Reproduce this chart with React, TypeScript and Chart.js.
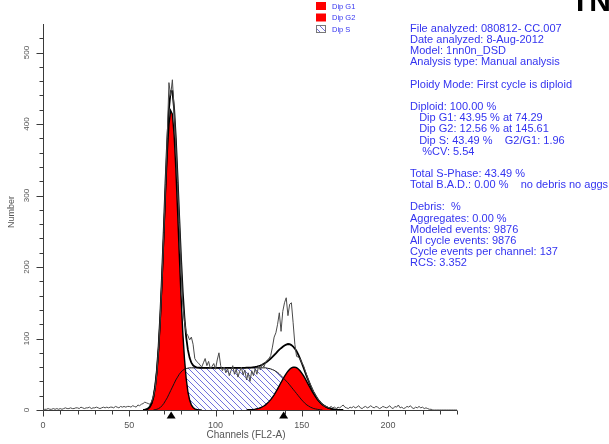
import { useEffect, useRef } from "react";
import { Chart, registerables } from "chart.js";

Chart.register(...registerables);

// ---- data (channel counts) ----
const rawStart = 0;
const rawCounts = [
  0, 1, 1, 2, 1, 1, 2, 1, 2, 1,
  2, 1, 2, 3, 2, 2, 3, 2, 2, 3,
  3, 2, 4, 3, 2, 3, 3, 4, 2, 3,
  3, 4, 3, 2, 3, 4, 3, 4, 3, 4,
  4, 3, 5, 4, 3, 5, 4, 5, 4, 5,
  5, 4, 6, 5, 4, 7, 6, 8, 9, 11,
  10, 9, 8, 12, 19, 30, 52, 85, 130, 185,
  248, 315, 380, 458, 440, 462, 420, 372, 318, 262,
  205, 150, 125, 108, 104, 98, 102, 92, 72, 68,
  66, 63, 60, 66, 72, 62, 68, 58, 61, 65,
  57, 70, 80, 62, 55, 60, 52, 58, 48, 55,
  62, 50, 57, 46, 54, 60, 49, 56, 42, 52,
  40, 55, 48, 58, 50, 62, 56, 64, 60, 66,
  70, 72, 76, 88, 102, 108, 120, 136, 110, 138,
  150, 157, 132, 148, 150, 122, 92, 75, 74, 72,
  66, 62, 55, 48, 41, 36, 30, 25, 21, 17,
  13, 11, 8, 6, 5, 4, 3, 5, 3, 4,
  2, 4, 3, 5, 7, 4, 3, 2, 4, 3,
  5, 3, 4, 6, 3, 2, 4, 5, 3, 4,
  6, 4, 3, 5, 4, 2, 3, 5, 4, 3,
  4, 6, 3, 2, 5, 4, 7, 3, 4, 2,
  3, 5, 4, 6, 3, 2, 4, 3, 5, 3,
  4, 2, 3, 2, 1, 1, 0, 0, 0, 0,
  0, 0, 0, 0, 0, 0, 0, 0, 0, 0, 0,
];

const g1Start = 58;
const g1Fit = [
  0.2, 0.5, 1, 2.2, 4.7, 9.4, 17.9, 32, 54, 86,
  129, 182, 242, 304, 359, 399, 419, 414, 385, 338,
  280, 218, 160, 110, 72, 44, 25.5, 14, 7.2, 3.5,
  1.6, 0.7, 0.3, 0.1, 0,
];

const sStart = 64;
const sFit = [
  0, 0.5, 1, 2, 3.5, 6, 9, 13, 17, 22,
  27, 32, 37, 42, 46, 50, 53, 55.5, 57, 58,
  58.5, 59, 59, 59, 59, 59, 59, 59, 59, 59,
  59, 59, 59, 59, 59, 59, 59, 59, 59, 59,
  59, 59, 59, 59, 59, 59, 59, 59, 59, 59,
  59, 59, 59, 59, 59, 59, 59, 59, 59, 59,
  59, 59, 59, 59, 59, 59, 58.5, 58, 57.5, 56.5,
  55.5, 54, 52.5, 50.5, 48, 45.5, 43, 40.5, 38, 35,
  32, 29, 26, 23, 20, 17, 14, 11.5, 9, 7,
  5.5, 4, 3, 2, 1.5, 1, 0.5, 0.2, 0,
];

const g2Start = 118;
const g2Fit = [
  0.17, 0.26, 0.39, 0.57, 0.83, 1.19, 1.67, 2.3, 3.1, 4.2,
  5.6, 7.2, 9.3, 11.7, 14.5, 17.7, 21.3, 25.3, 29.6, 34,
  38.5, 42.9, 47.2, 51, 54.3, 57, 58.8, 59.8, 59.9, 59.1,
  57.4, 54.9, 51.7, 48, 43.8, 39.4, 34.9, 30.4, 26.1, 22.1,
  18.4, 15.1, 12.2, 9.7, 7.6, 5.9, 4.5, 3.3, 2.5, 1.8,
  1.3, 0.9, 0.6, 0.4, 0.3, 0.2, 0,
];

const xMajorTicks = [0, 50, 100, 150, 200];
const yMajorTicks = [0, 100, 200, 300, 400, 500];
const markerChannels = [74.29, 139.5];
const legendLabels = ["Dip G1", "Dip G2", "Dip S"];
const infoLines = [
  "File analyzed: 080812- CC.007",
  "Date analyzed: 8-Aug-2012",
  "Model: 1nn0n_DSD",
  "Analysis type: Manual analysis",
  "",
  "Ploidy Mode: First cycle is diploid",
  "",
  "Diploid: 100.00 %",
  "   Dip G1: 43.95 % at 74.29",
  "   Dip G2: 12.56 % at 145.61",
  "   Dip S: 43.49 %    G2/G1: 1.96",
  "    %CV: 5.54",
  "",
  "Total S-Phase: 43.49 %",
  "Total B.A.D.: 0.00 %    no debris no aggs",
  "",
  "Debris:  %",
  "Aggregates: 0.00 %",
  "Modeled events: 9876",
  "All cycle events: 9876",
  "Cycle events per channel: 137",
  "RCS: 3.352",
];

const toPoints = (start: number, arr: number[]) => arr.map((v, i) => ({ x: start + i, y: v }));
const valueAt = (start: number, arr: number[], ch: number) => {
  const i = ch - start;
  return i >= 0 && i < arr.length ? arr[i] : 0;
};
const modelPoints = () => {
  const from = Math.min(g1Start, sStart, g2Start);
  const to = Math.max(g1Start + g1Fit.length, sStart + sFit.length, g2Start + g2Fit.length);
  const pts: { x: number; y: number }[] = [];
  for (let ch = from; ch < to; ch++) {
    pts.push({ x: ch, y: valueAt(g1Start, g1Fit, ch) + valueAt(sStart, sFit, ch) + valueAt(g2Start, g2Fit, ch) });
  }
  return pts;
};

const BLUE = "#3434f0";
const AXIS = "#3a3a3a";
const LABEL = "#555555";

function makeHatch(): CanvasPattern | string {
  const n = 6;
  const c = document.createElement("canvas");
  c.width = n;
  c.height = n;
  const g = c.getContext("2d");
  if (!g) return "#c8c8f0";
  g.fillStyle = "#fdfdff";
  g.fillRect(0, 0, n, n);
  g.strokeStyle = "#7070dc";
  g.lineWidth = 1;
  g.beginPath();
  g.moveTo(-1, -1);
  g.lineTo(n + 1, n + 1);
  g.moveTo(-1, n - 1);
  g.lineTo(1, n + 1);
  g.moveTo(n - 1, -1);
  g.lineTo(n + 1, 1);
  g.stroke();
  const p = g.createPattern(c, "repeat");
  return p || "#c8c8f0";
}

const decorPlugin = {
  id: "decor",
  afterDatasetsDraw(chart: any) {
    const { ctx, scales } = chart;
    const x = scales.x;
    const y = scales.y;
    const x0 = Math.round(x.getPixelForValue(0)) + 0.5;
    const xEnd = x.getPixelForValue(240);
    const y0 = Math.round(y.getPixelForValue(0)) + 0.5;
    const yTop = y.getPixelForValue(540);
    ctx.save();
    ctx.strokeStyle = AXIS;
    ctx.lineWidth = 1;
    ctx.beginPath();
    ctx.moveTo(x0, yTop);
    ctx.lineTo(x0, y0);
    ctx.lineTo(xEnd, y0);
    for (let v = 0; v <= 240; v += 10) {
      const px = Math.round(x.getPixelForValue(v)) + 0.5;
      const len = v % 50 === 0 ? 6 : 4;
      ctx.moveTo(px, y0);
      ctx.lineTo(px, y0 + len);
    }
    for (let v = 0; v <= 520; v += 20) {
      const py = Math.round(y.getPixelForValue(v)) + 0.5;
      const len = v % 100 === 0 ? 7 : 4;
      ctx.moveTo(x0, py);
      ctx.lineTo(x0 - len, py);
    }
    ctx.stroke();

    // markers
    ctx.fillStyle = "#000";
    markerChannels.forEach((m) => {
      const px = x.getPixelForValue(m);
      ctx.beginPath();
      ctx.moveTo(px, y0 + 1);
      ctx.lineTo(px - 4.5, y0 + 8);
      ctx.lineTo(px + 4.5, y0 + 8);
      ctx.closePath();
      ctx.fill();
    });

    // tick labels
    ctx.fillStyle = LABEL;
    ctx.font = "9px 'Liberation Sans', Arial, sans-serif";
    ctx.textAlign = "center";
    ctx.textBaseline = "middle";
    xMajorTicks.forEach((v) => {
      ctx.fillText(String(v), x.getPixelForValue(v), y0 + 15);
    });
    ctx.font = "8px 'Liberation Sans', Arial, sans-serif";
    yMajorTicks.forEach((v) => {
      ctx.save();
      ctx.translate(x0 - 17, y.getPixelForValue(v));
      ctx.rotate(-Math.PI / 2);
      ctx.fillText(String(v), 0, 0);
      ctx.restore();
    });

    // axis titles
    ctx.font = "10px 'Liberation Sans', Arial, sans-serif";
    ctx.fillText("Channels (FL2-A)", 246, 435);
    ctx.save();
    ctx.translate(12, 212);
    ctx.rotate(-Math.PI / 2);
    ctx.font = "9px 'Liberation Sans', Arial, sans-serif";
    ctx.fillText("Number", 0, 0);
    ctx.restore();

    // legend
    const ds = chart.data.datasets;
    const swatches = [ds[4].backgroundColor, ds[3].backgroundColor, ds[5].backgroundColor];
    ctx.textAlign = "left";
    ctx.font = "7.5px 'Liberation Sans', Arial, sans-serif";
    legendLabels.forEach((lab, i) => {
      const top = 2 + i * 11.5;
      ctx.fillStyle = swatches[i];
      ctx.fillRect(316, top, 10, 8);
      if (i === 2) {
        ctx.strokeStyle = "#777";
        ctx.strokeRect(316.5, top + 0.5, 9, 7);
      }
      ctx.fillStyle = BLUE;
      ctx.fillText(lab, 332, top + 4.5);
    });

    // info text
    ctx.font = "11px 'Liberation Sans', Arial, sans-serif";
    ctx.fillStyle = BLUE;
    infoLines.forEach((line, i) => {
      if (line) ctx.fillText(line, 410, 29 + i * 11.15);
    });

    // cut-off title fragment at top right
    ctx.fillStyle = "#000";
    ctx.font = "bold 30px 'Liberation Sans', Arial, sans-serif";
    ctx.textBaseline = "alphabetic";
    ctx.fillText("TN", 571, 11);
    ctx.restore();
  },
};

export default function App() {
  const ref = useRef<HTMLCanvasElement | null>(null);
  useEffect(() => {
    if (!ref.current) return;
    const hatch = makeHatch();
    const chart = new Chart(ref.current, {
      type: "line",
      data: {
        datasets: [
          {
            label: "Data",
            data: toPoints(rawStart, rawCounts),
            borderColor: "#4a4a4a",
            borderWidth: 1,
            pointRadius: 0,
            fill: false,
            order: 0,
          },
          {
            label: "Model",
            data: modelPoints(),
            borderColor: "#000",
            borderWidth: 1.8,
            pointRadius: 0,
            fill: false,
            order: 1,
          },
          {
            label: "S outline",
            data: toPoints(sStart, sFit),
            borderColor: "#111",
            borderWidth: 1,
            pointRadius: 0,
            fill: false,
            order: 2,
          },
          {
            label: "Dip G2",
            data: toPoints(g2Start, g2Fit),
            borderColor: "#000",
            borderWidth: 1.4,
            backgroundColor: "#ff0000",
            pointRadius: 0,
            fill: "origin",
            order: 3,
          },
          {
            label: "Dip G1",
            data: toPoints(g1Start, g1Fit),
            borderColor: "#000",
            borderWidth: 1.4,
            backgroundColor: "#ff0000",
            pointRadius: 0,
            fill: "origin",
            order: 4,
          },
          {
            label: "Dip S",
            data: toPoints(sStart, sFit),
            borderColor: "rgba(0,0,0,0)",
            borderWidth: 0,
            backgroundColor: hatch as any,
            pointRadius: 0,
            fill: "origin",
            order: 5,
          },
        ],
      },
      options: {
        animation: false,
        responsive: false,
        devicePixelRatio: 1,
        events: [],
        layout: { padding: { left: 43, right: 152, top: 24, bottom: 34 } },
        elements: { line: { tension: 0 } },
        scales: {
          x: { type: "linear", min: 0, max: 240, display: false },
          y: { type: "linear", min: 0, max: 540, display: false },
        },
        plugins: {
          legend: { display: false },
          tooltip: { enabled: false },
        },
      },
      plugins: [decorPlugin],
    });
    return () => chart.destroy();
  }, []);
  return (
    <div style={{ position: "fixed", left: 0, top: 0, width: 609, height: 444, background: "#fff" }}>
      <canvas ref={ref} width={609} height={444} style={{ display: "block" }} />
    </div>
  );
}
